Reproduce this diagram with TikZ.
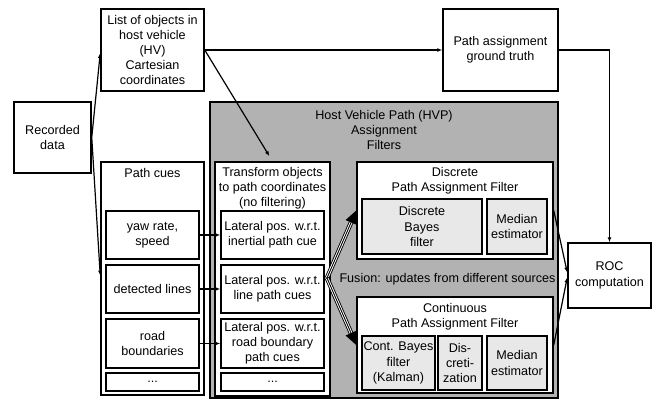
\documentclass[tikz,border=0pt]{standalone}
\usepackage{fontspec}
\setmainfont{Liberation Sans}
\usetikzlibrary{arrows.meta,calc}
\newcommand{\rbox}[7]{\node[#1, minimum width={(#4-#2)*1pt}, minimum height={(#5-#3)*1pt}] (#6) at ({(#2+#4)/2},{(#3+#5)/2}) {#7};}
\begin{document}
\begin{tikzpicture}[x=1pt,y=-1pt,
  every node/.style={font=\fontsize{12.6}{15.2}\selectfont, align=center, inner sep=0pt},
  box/.style={draw, line width=1.5pt, fill=white},
  lbox/.style={box, fill=black!9},
  hvpbox/.style={box, fill=black!30},
  conn/.style={line width=1.2pt, -{Latex[length=5pt,width=4pt]}},
  plain/.style={line width=1.2pt},
]
\useasboundingbox (0,0) rectangle (665,400);
% main boxes
\rbox{box}{14}{102}{91}{173}{rec}{Recorded\\data}
\rbox{box}{101}{9}{204}{91}{list}{List of objects in\\host vehicle\\(HV)\\Cartesian\\coordinates}
\rbox{box}{443}{9}{558}{91}{gt}{Path assignment\\ground truth}
\rbox{box}{568}{243}{651}{308}{roc}{ROC\\computation}
\rbox{hvpbox}{210}{102}{558}{398}{hvp}{}
\node (hvpt) at (384,130) {Host Vehicle Path (HVP)\\Assignment\\Filters};
% path cues
\rbox{box}{101}{162}{204}{395}{cues}{}
\node (cuest) at (152.5,173) {Path cues};
\rbox{box}{106}{211}{199}{259}{yaw}{yaw rate,\\speed}
\rbox{box}{106}{265}{199}{313}{det}{detected lines}
\rbox{box}{106}{319}{199}{368}{road}{road\\boundaries}
\rbox{box}{106}{373}{199}{391}{dotsa}{...}
% transform
\rbox{box}{215}{162}{330}{396}{trans}{}
\node (transt) at (272.5,188) {Transform objects\\to path coordinates\\(no filtering)};
\rbox{box}{221}{211}{324}{259}{lata}{Lateral pos. w.r.t.\\inertial path cue}
\rbox{box}{221}{265}{324}{313}{latb}{Lateral pos. w.r.t.\\line path cues}
\rbox{box}{221}{319}{324}{368}{latc}{Lateral pos. w.r.t.\\road boundary\\path cues}
\rbox{box}{221}{373}{324}{391}{dotsb}{...}
% discrete
\rbox{box}{357}{162}{553}{259}{dpaf}{}
\node (dpaft) at (455,181) {Discrete\\Path Assignment Filter};
\rbox{lbox}{362}{199}{482}{254}{dbayes}{Discrete\\Bayes\\filter}
\rbox{lbox}{487}{199}{547}{254}{dmed}{Median\\estimator}
\node (fusion) at (447.5,279) {Fusion: updates from different sources};
% continuous
\rbox{box}{357}{297}{553}{393}{cpaf}{}
\node (cpaft) at (455,316.5) {Continuous\\Path Assignment Filter};
\rbox{lbox}{362}{336}{435}{390}{cbayes}{Cont. Bayes\\filter\\(Kalman)}
\rbox{lbox}{438}{336}{482}{390}{disc}{Dis-\\creti-\\zation}
\rbox{lbox}{487}{336}{547}{390}{cmed}{Median\\estimator}
% connectors
\draw[conn] (rec.east) -- ([yshift=-3pt]list.west);
\draw[conn] (rec.east) -- ([yshift=3pt]cues.west);
\draw[conn] (list.east) -- (gt.west);
\draw[conn, shorten >=6pt] (list.east) -- (trans.north);
\draw[conn] (gt.east) -| (roc.north);
\draw[conn] (yaw.east) -- (lata.west);
\draw[conn] (det.east) -- (latb.west);
\draw[conn] (road.east) -- (latc.west);
\draw[conn] (dpaf.east) -- ([yshift=3pt]roc.west);
\draw[conn] (cpaf.east) -- ([yshift=-2pt]roc.west);
% fusion triple arrows
\coordinate (fus) at (327,278);
\foreach \t in {dpaf,cpaf}{
  \draw[line width=4.6pt, shorten >=10pt] (fus) -- (\t.west);
  \draw[line width=2.8pt, white, shorten >=9pt, shorten <=0.5pt] (fus) -- (\t.west);
  \draw[line width=0.9pt, shorten >=10pt] (fus) -- (\t.west);
  \fill ($(\t.west)!13pt!(fus)!6pt!90:(\t.west)$) -- (\t.west) -- ($(\t.west)!13pt!(fus)!6pt!-90:(\t.west)$) -- cycle;
}
\end{tikzpicture}
\end{document}
